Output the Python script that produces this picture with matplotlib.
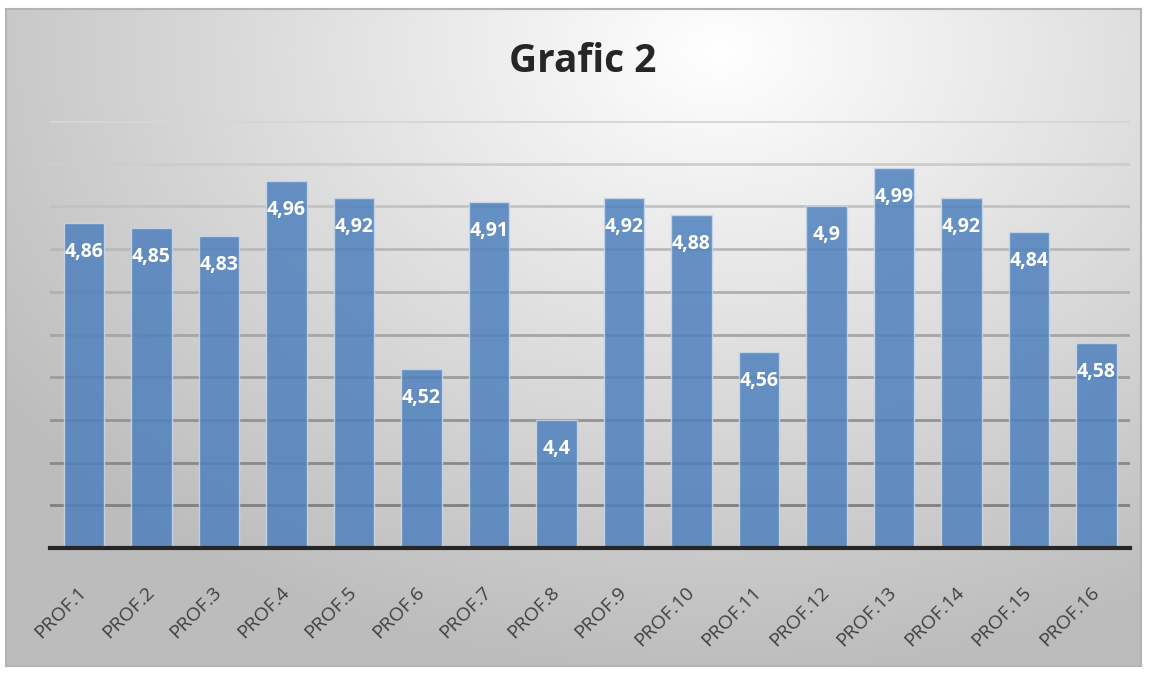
import matplotlib
matplotlib.use("Agg")
import matplotlib.pyplot as plt
import numpy as np

# values
profs = ["PROF.1", "PROF.2", "PROF.3", "PROF.4", "PROF.5", "PROF.6", "PROF.7", "PROF.8",
         "PROF.9", "PROF.10", "PROF.11", "PROF.12", "PROF.13", "PROF.14", "PROF.15", "PROF.16"]
scores = [4.86, 4.85, 4.83, 4.96, 4.92, 4.52, 4.91, 4.4,
          4.92, 4.88, 4.56, 4.9, 4.99, 4.92, 4.84, 4.58]
y_min, y_max, y_step = 4.1, 5.1, 0.1

W, H = 1149, 674
fig = plt.figure(figsize=(W / 100, H / 100), dpi=100)
fig.patch.set_facecolor("white")

# chart area background: radial gradient, bright near top centre-right
bx0, by0, bx1, by1 = 6, 9, 1141, 666
bg = fig.add_axes([bx0 / W, 1 - by1 / H, (bx1 - bx0) / W, (by1 - by0) / H])
gx, gy = np.meshgrid(np.linspace(bx0, bx1, 400), np.linspace(by0, by1, 250))
d = np.sqrt(((gx - 720) / 900) ** 2 + ((gy - 50) / 650) ** 2)
shade = np.clip(1.0 - 0.27 * d, 0.74, 1.0)
bg.imshow(np.dstack([shade] * 3), aspect="auto", extent=[0, 1, 0, 1], origin="upper")
bg.set_xticks([])
bg.set_yticks([])
for s in bg.spines.values():
    s.set_color("#b4b4b4")
    s.set_linewidth(1.5)

ax = fig.add_axes([50 / W, 1 - 548 / H, 1080 / W, 427 / H])
ax.patch.set_alpha(0)
ax.set_zorder(2)

x = np.arange(len(profs))
ax.set_xlim(-0.5, len(profs) - 0.5)
ax.set_ylim(y_min, y_max)

grid_vals = np.arange(y_min + y_step, y_max + 0.001, y_step)
for i, g in enumerate(grid_vals):
    t = i / (len(grid_vals) - 1)
    c = 0.50 + 0.34 * t
    ax.axhline(g, color=(c, c, c), lw=2.0, zorder=1)

ax.bar(x, [v - y_min for v in scores], bottom=y_min, width=0.6,
       color="#4F81BD", alpha=0.85, edgecolor="#c9d8ec", linewidth=1.0, zorder=2)

for xi, v in zip(x, scores):
    lbl = ("%g" % v).replace(".", ",")
    ax.annotate(lbl, (xi, v), xytext=(0, -29), textcoords="offset pixels",
                ha="center", va="center", color="white", fontsize=14, fontweight="bold",
                family="Open Sans", zorder=3)

ax.axhline(y_min, color="#262626", lw=3.0, zorder=4, clip_on=False)

ax.set_yticks([])
ax.set_xticks(x)
ax.set_xticklabels(profs, rotation=45, ha="right", va="center", rotation_mode="anchor",
                   fontsize=14, color="#404040", family="Open Sans")
ax.tick_params(axis="x", length=0, pad=30)
for s in ax.spines.values():
    s.set_visible(False)

fig.text(583 / W, 1 - 62 / H, "Grafic 2", ha="center", va="center",
         fontsize=28, fontweight="bold", color="#262626", family="Open Sans")

fig.savefig("out.png", dpi=100)
